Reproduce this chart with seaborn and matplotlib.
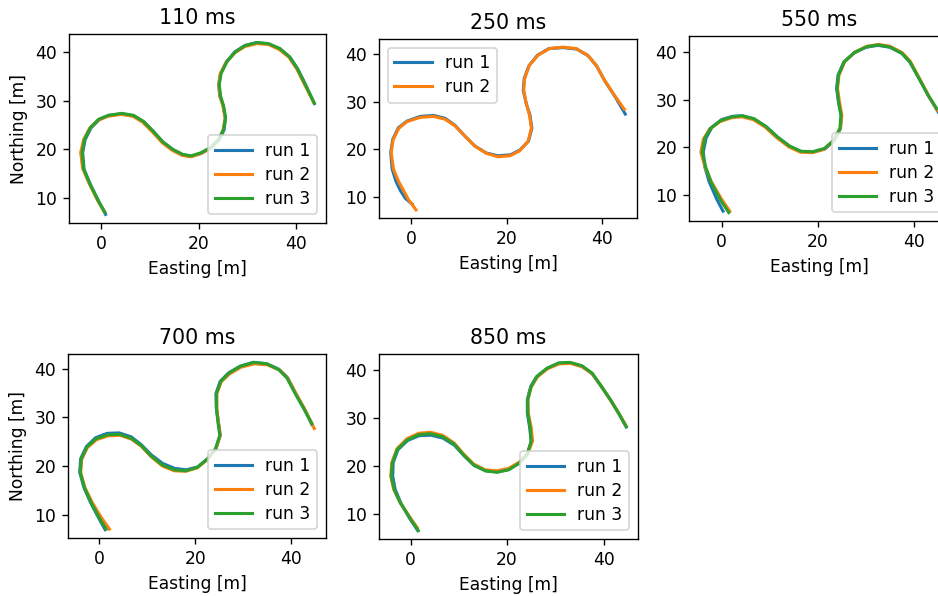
import matplotlib
matplotlib.use("Agg")
import matplotlib.pyplot as plt
import seaborn as sns

# trajectories (Easting / Northing in metres)
x110_r1 = [0.9, -0.4, -2.1, -3.5, -3.8, -3.3, -2.1, -0.4, 1.6, 4.3, 6.7, 8.7, 10.7, 12.7, 14.8, 16.8, 18.5, 20.5, 22.5, 24.2, 25.2, 25.5, 25.0, 24.3, 24.1, 24.5, 25.7, 27.4, 29.5, 31.9, 34.3, 36.7, 38.7, 40.3, 41.8, 43.7]
y110_r1 = [6.7, 9.2, 12.6, 15.9, 19.3, 22.0, 24.4, 26.1, 27.0, 27.3, 26.9, 25.7, 23.7, 21.5, 19.9, 18.9, 18.6, 19.2, 20.3, 22.0, 24.0, 26.5, 29.0, 31.0, 33.3, 35.6, 38.0, 40.0, 41.3, 41.9, 41.6, 40.6, 38.9, 36.5, 33.5, 29.4]
x110_r2 = [0.6, -0.7, -2.4, -3.8, -4.2, -3.6, -2.4, -0.6, 1.4, 4.1, 6.5, 8.5, 10.5, 12.5, 14.6, 16.6, 18.3, 20.3, 22.3, 24.0, 25.0, 25.4, 25.0, 24.4, 24.1, 24.4, 25.6, 27.4, 29.5, 31.9, 34.3, 36.5, 38.5, 40.1, 41.6, 43.6]
y110_r2 = [7.3, 9.5, 12.9, 16.1, 19.4, 22.0, 24.3, 26.0, 26.8, 27.2, 26.8, 25.6, 23.6, 21.4, 19.8, 18.8, 18.5, 19.1, 20.2, 21.9, 24.0, 26.4, 28.8, 30.8, 33.2, 35.5, 37.8, 39.8, 41.1, 41.7, 41.5, 40.5, 38.9, 36.5, 33.5, 29.6]
x110_r3 = [0.8, -0.5, -2.2, -3.6, -3.9, -3.4, -2.2, -0.5, 1.5, 4.2, 6.6, 8.6, 10.6, 12.6, 14.7, 16.7, 18.4, 20.4, 22.4, 24.1, 25.1, 25.5, 25.1, 24.5, 24.2, 24.6, 25.8, 27.5, 29.5, 31.9, 34.3, 36.6, 38.6, 40.2, 41.7, 43.7]
y110_r3 = [7.1, 9.3, 12.7, 16.0, 19.4, 22.1, 24.5, 26.2, 27.0, 27.4, 27.0, 25.8, 23.8, 21.6, 20.0, 19.0, 18.7, 19.3, 20.4, 22.1, 24.1, 26.5, 28.9, 30.9, 33.3, 35.6, 38.0, 40.0, 41.3, 41.9, 41.7, 40.7, 39.0, 36.6, 33.6, 29.5]

x250_r1 = [0.2, -1.2, -2.3, -3.2, -4.0, -4.3, -3.9, -2.7, -0.9, 1.9, 4.7, 7.1, 9.2, 11.2, 13.3, 15.7, 18.2, 20.8, 22.8, 24.6, 25.3, 24.9, 24.1, 23.5, 23.7, 24.7, 26.5, 28.9, 31.8, 34.7, 37.1, 38.9, 40.6, 42.8, 44.9]
y250_r1 = [8.4, 9.6, 11.3, 13.2, 15.8, 19.2, 22.0, 24.5, 25.9, 26.9, 27.1, 26.5, 25.0, 22.8, 20.7, 19.2, 18.6, 18.8, 19.8, 21.7, 24.4, 27.2, 29.7, 32.4, 34.9, 37.6, 39.8, 41.2, 41.4, 41.1, 39.7, 37.5, 34.4, 31.0, 27.4]
x250_r2 = [1.0, -0.6, -2.6, -3.7, -4.2, -3.8, -2.6, -0.9, 1.9, 4.7, 7.1, 9.2, 11.3, 13.4, 15.8, 18.2, 20.7, 22.7, 24.5, 25.2, 24.8, 24.1, 23.6, 23.8, 24.8, 26.6, 29.0, 31.8, 34.6, 37.0, 38.8, 40.5, 42.6, 44.7]
y250_r2 = [7.2, 9.4, 13.1, 15.7, 19.2, 22.0, 24.4, 25.8, 26.7, 26.9, 26.3, 24.9, 22.7, 20.6, 19.1, 18.4, 18.6, 19.6, 21.6, 24.4, 27.2, 29.7, 32.5, 34.9, 37.7, 39.8, 41.2, 41.5, 41.2, 39.8, 37.7, 34.6, 31.4, 28.4]

x550_r1 = [0.3, -1.0, -2.6, -3.5, -3.8, -3.2, -2.0, 0.0, 2.3, 4.4, 6.8, 9.3, 11.7, 14.2, 16.6, 19.0, 21.5, 23.4, 24.7, 24.9, 24.3, 23.9, 24.2, 25.4, 27.5, 30.0, 32.5, 35.0, 37.5, 39.2, 41.0, 43.1, 45.0]
y550_r1 = [6.7, 9.2, 12.9, 16.0, 19.1, 22.0, 24.2, 25.8, 26.5, 26.6, 25.9, 24.3, 22.1, 20.2, 19.1, 19.0, 19.7, 21.4, 23.9, 26.7, 29.5, 32.3, 35.1, 37.8, 39.7, 40.9, 41.3, 40.9, 39.6, 37.7, 34.5, 30.6, 27.4]
x550_r2 = [1.7, 0.0, -2.1, -3.4, -4.3, -3.8, -2.5, -0.3, 2.1, 4.2, 6.6, 9.1, 11.5, 14.0, 16.4, 18.8, 21.3, 23.3, 24.7, 25.0, 24.5, 24.1, 24.4, 25.6, 27.7, 30.2, 32.6, 35.0, 37.5, 39.2, 40.9, 43.0, 44.8]
y550_r2 = [6.7, 9.2, 12.8, 15.8, 19.0, 21.7, 23.8, 25.4, 26.2, 26.4, 25.8, 24.2, 22.0, 20.1, 19.0, 18.9, 19.6, 21.4, 24.0, 26.7, 29.5, 32.3, 35.1, 37.9, 39.9, 41.1, 41.5, 41.1, 39.8, 38.0, 34.8, 30.8, 27.8]
x550_r3 = [1.5, -0.2, -2.2, -3.3, -4.0, -3.5, -2.3, -0.2, 2.2, 4.3, 6.7, 9.2, 11.6, 14.1, 16.5, 18.9, 21.4, 23.3, 24.6, 24.8, 24.3, 24.0, 24.3, 25.5, 27.6, 30.1, 32.5, 34.9, 37.4, 39.1, 40.8, 42.9, 44.7]
y550_r3 = [6.4, 9.0, 12.8, 15.9, 19.1, 21.9, 24.0, 25.6, 26.4, 26.6, 26.0, 24.4, 22.2, 20.3, 19.2, 19.1, 19.8, 21.5, 24.0, 26.7, 29.5, 32.3, 35.1, 37.9, 39.8, 41.0, 41.4, 41.0, 39.7, 37.9, 34.8, 30.9, 28.1]

x700_r1 = [1.2, -0.1, -1.8, -3.2, -4.1, -3.9, -2.7, -0.8, 1.6, 4.1, 6.6, 8.7, 10.8, 13.2, 15.7, 18.1, 20.5, 22.6, 24.3, 25.2, 24.8, 24.4, 24.3, 25.2, 26.9, 29.3, 32.1, 34.9, 37.4, 39.2, 40.9, 42.7, 44.3]
y700_r1 = [6.9, 9.2, 12.4, 15.5, 18.7, 21.5, 24.0, 25.8, 26.7, 26.8, 26.0, 24.4, 22.3, 20.5, 19.5, 19.2, 19.8, 21.5, 23.6, 26.3, 29.1, 31.8, 34.9, 37.4, 39.1, 40.5, 41.3, 41.0, 39.9, 38.2, 35.0, 31.8, 28.5]
x700_r2 = [2.1, 0.4, -1.5, -3.0, -3.9, -3.7, -2.5, -0.6, 1.8, 4.3, 6.7, 8.8, 10.8, 13.1, 15.6, 18.0, 20.4, 22.5, 24.3, 25.2, 24.8, 24.5, 24.5, 25.4, 27.1, 29.5, 32.3, 35.0, 37.6, 39.3, 41.0, 42.9, 44.8]
y700_r2 = [7.0, 9.4, 12.5, 15.5, 18.6, 21.3, 23.8, 25.4, 26.2, 26.3, 25.5, 24.0, 21.9, 20.0, 19.0, 18.9, 19.6, 21.3, 23.5, 26.3, 29.1, 31.8, 34.9, 37.3, 38.9, 40.3, 41.0, 40.8, 39.7, 38.0, 34.8, 31.5, 27.7]
x700_r3 = [1.4, 0.0, -1.7, -3.1, -4.0, -3.8, -2.6, -0.7, 1.7, 4.2, 6.6, 8.7, 10.7, 13.1, 15.6, 18.0, 20.4, 22.5, 24.2, 25.1, 24.7, 24.4, 24.4, 25.3, 27.0, 29.4, 32.2, 34.9, 37.4, 39.1, 40.8, 42.6, 44.3]
y700_r3 = [7.0, 9.3, 12.4, 15.5, 18.7, 21.4, 23.9, 25.6, 26.4, 26.5, 25.7, 24.2, 22.1, 20.2, 19.2, 19.0, 19.7, 21.4, 23.5, 26.3, 29.1, 31.8, 34.9, 37.4, 39.1, 40.5, 41.3, 41.0, 39.8, 38.1, 34.9, 31.8, 28.7]

x850_r1 = [1.5, -0.1, -2.0, -3.2, -3.7, -3.6, -2.6, -0.6, 1.8, 4.2, 6.7, 9.1, 11.1, 13.2, 15.6, 18.0, 20.4, 22.5, 24.2, 25.0, 24.7, 24.2, 24.2, 24.9, 26.1, 28.2, 30.7, 33.1, 35.6, 37.7, 39.4, 41.5, 43.2, 44.7]
y850_r1 = [6.6, 9.0, 12.3, 15.2, 17.9, 20.7, 23.4, 25.3, 26.3, 26.4, 25.8, 24.3, 22.1, 20.1, 19.0, 18.8, 19.3, 20.6, 22.4, 25.1, 27.9, 31.0, 33.8, 36.5, 38.5, 40.2, 41.3, 41.4, 40.7, 39.1, 36.7, 33.6, 30.8, 28.1]
x850_r2 = [1.4, -0.1, -2.2, -3.5, -4.1, -3.9, -2.8, -0.7, 1.7, 4.1, 6.6, 9.0, 11.0, 13.1, 15.5, 17.9, 20.3, 22.5, 24.3, 25.3, 25.0, 24.4, 24.3, 25.0, 26.3, 28.4, 30.8, 33.2, 35.5, 37.6, 39.3, 41.3, 43.0, 44.6]
y850_r2 = [7.2, 9.3, 12.5, 15.2, 17.9, 20.7, 23.6, 25.7, 26.8, 27.0, 26.4, 24.8, 22.5, 20.4, 19.2, 19.0, 19.5, 20.8, 22.6, 25.2, 28.0, 31.0, 33.8, 36.4, 38.5, 40.2, 41.2, 41.3, 40.6, 39.2, 36.9, 33.9, 31.2, 28.4]
x850_r3 = [1.6, 0.0, -2.1, -3.4, -4.0, -3.8, -2.8, -0.7, 1.7, 4.1, 6.6, 9.0, 11.0, 13.1, 15.5, 17.9, 20.3, 22.4, 24.1, 25.0, 24.8, 24.3, 24.3, 25.0, 26.2, 28.3, 30.7, 33.1, 35.5, 37.6, 39.3, 41.4, 43.1, 44.7]
y850_r3 = [6.6, 9.0, 12.3, 15.1, 17.8, 20.6, 23.4, 25.4, 26.5, 26.7, 26.1, 24.6, 22.3, 20.2, 19.0, 18.7, 19.2, 20.5, 22.3, 25.1, 27.9, 31.0, 33.8, 36.5, 38.6, 40.3, 41.4, 41.5, 40.8, 39.3, 36.9, 33.8, 31.0, 28.2]

titles = ["110 ms", "250 ms", "550 ms", "700 ms", "850 ms"]
run_labels = ["run 1", "run 2", "run 3"]
run_colors = ["#1f77b4", "#ff7f0e", "#2ca02c"]

panels = [
    [(x110_r1, y110_r1), (x110_r2, y110_r2), (x110_r3, y110_r3)],
    [(x250_r1, y250_r1), (x250_r2, y250_r2)],
    [(x550_r1, y550_r1), (x550_r2, y550_r2), (x550_r3, y550_r3)],
    [(x700_r1, y700_r1), (x700_r2, y700_r2), (x700_r3, y700_r3)],
    [(x850_r1, y850_r1), (x850_r2, y850_r2), (x850_r3, y850_r3)],
]
legend_loc = ["lower right", "upper left", "lower right", "lower right", "lower right"]

# axes boxes in pixels (left, top, right, bottom) on a 938x596 canvas
boxes = [
    (69, 34, 326, 223),
    (379, 39, 637, 218),
    (689, 36, 950, 221),
    (68, 354, 326, 538),
    (379, 354, 638, 539),
]

W, H, DPI = 938, 596, 123
fig = plt.figure(figsize=(W / DPI, H / DPI), dpi=DPI)

for i, (runs, box) in enumerate(zip(panels, boxes)):
    l, t, r, b = box
    ax = fig.add_axes([l / W, 1 - b / H, (r - l) / W, (b - t) / H])
    for j, (xs, ys) in enumerate(runs):
        sns.lineplot(x=xs, y=ys, sort=False, estimator=None, color=run_colors[j],
                     lw=1.8, label=run_labels[j], ax=ax)
    ax.set_title(titles[i])
    ax.set_xlabel("Easting [m]")
    if i in (0, 3):
        ax.set_ylabel("Northing [m]")
    ax.set_xticks([0, 20, 40])
    ax.set_yticks([10, 20, 30, 40])
    ax.legend(loc=legend_loc[i], handlelength=2.2, handletextpad=0.75,
              labelspacing=0.35, borderpad=0.4)

fig.savefig("out.png", dpi=DPI)
